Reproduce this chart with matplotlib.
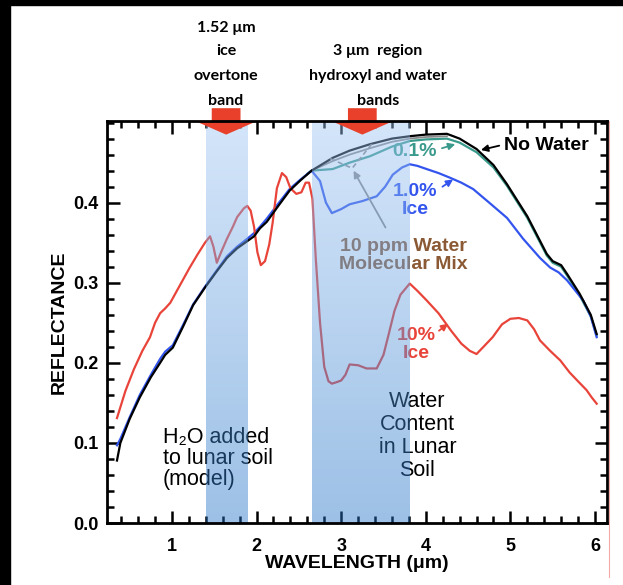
import numpy as np
import matplotlib
matplotlib.use("Agg")
import matplotlib.pyplot as plt
from matplotlib.patches import Rectangle, FancyArrow
from matplotlib.lines import Line2D
from matplotlib.ticker import MultipleLocator

# ---------------- data ----------------
wl_dry = [0.35, 0.39, 0.50, 0.62, 0.75, 0.86, 0.92, 1.01, 1.13, 1.25, 1.39, 1.52, 1.65, 1.77,
          1.89, 1.97, 2.04, 2.12, 2.25, 2.39, 2.52, 2.65, 2.90, 3.10, 3.34, 3.60, 3.81, 4.00,
          4.25, 4.40, 4.60, 4.80, 4.96, 5.20, 5.43, 5.50, 5.60, 5.67, 5.82, 5.95, 6.02]
refl_dry = [0.078, 0.100, 0.130, 0.157, 0.182, 0.200, 0.210, 0.219, 0.245, 0.272, 0.294, 0.313,
            0.331, 0.343, 0.352, 0.358, 0.368, 0.376, 0.395, 0.415, 0.428, 0.440, 0.456, 0.465,
            0.473, 0.480, 0.483, 0.485, 0.486, 0.480, 0.467, 0.447, 0.423, 0.383, 0.336, 0.327,
            0.322, 0.311, 0.286, 0.260, 0.236]

wl_01 = [2.60, 2.65, 2.90, 3.10, 3.34, 3.60, 3.81, 4.00, 4.25, 4.40, 4.60, 4.80, 4.96, 5.20,
         5.43, 5.50, 5.60, 5.67, 5.82, 5.95, 6.02]
refl_01 = [0.436, 0.440, 0.442, 0.450, 0.458, 0.470, 0.477, 0.479, 0.480, 0.475, 0.463, 0.444,
           0.421, 0.381, 0.334, 0.325, 0.320, 0.309, 0.284, 0.258, 0.234]

wl_ppm = [2.65, 2.90, 3.10, 3.34, 3.60, 3.81, 4.00, 4.25]
refl_ppm = [0.440, 0.452, 0.460, 0.468, 0.476, 0.480, 0.482, 0.483]

wl_10 = [0.35, 0.39, 0.50, 0.62, 0.75, 0.86, 0.92, 1.01, 1.13, 1.25, 1.39, 1.52, 1.65, 1.77,
         1.89, 1.97, 2.04, 2.12, 2.25, 2.39, 2.52, 2.65, 2.75, 2.82, 2.89, 3.00, 3.10, 3.25,
         3.42, 3.52, 3.61, 3.72, 3.81, 3.90, 4.01, 4.15, 4.29, 4.42, 4.56, 4.75, 4.96, 5.15,
         5.35, 5.47, 5.57, 5.67, 5.86, 5.95, 6.02]
refl_10 = [0.097, 0.105, 0.132, 0.160, 0.185, 0.205, 0.214, 0.222, 0.247, 0.273, 0.295, 0.314,
           0.333, 0.345, 0.355, 0.362, 0.370, 0.380, 0.398, 0.417, 0.429, 0.440, 0.427, 0.400,
           0.387, 0.392, 0.398, 0.402, 0.408, 0.420, 0.435, 0.444, 0.448, 0.446, 0.442, 0.437,
           0.431, 0.425, 0.417, 0.400, 0.381, 0.355, 0.331, 0.319, 0.313, 0.303, 0.278, 0.258,
           0.232]

wl_100 = [0.35, 0.45, 0.55, 0.65, 0.74, 0.80, 0.86, 0.92, 0.98, 1.10, 1.21, 1.30, 1.39, 1.45,
          1.49, 1.53, 1.58, 1.65, 1.72, 1.77, 1.85, 1.89, 1.93, 1.97, 2.01, 2.05, 2.10, 2.15,
          2.19, 2.24, 2.30, 2.35, 2.40, 2.47, 2.53, 2.58, 2.62, 2.66, 2.70, 2.75, 2.80, 2.85,
          2.89, 2.95, 3.00, 3.05, 3.10, 3.20, 3.30, 3.42, 3.50, 3.56, 3.63, 3.70, 3.81, 3.90,
          4.01, 4.15, 4.30, 4.42, 4.52, 4.60, 4.70, 4.79, 4.90, 5.00, 5.10, 5.20, 5.28, 5.35,
          5.47, 5.59, 5.70, 5.79, 5.90, 5.96, 6.02]
refl_100 = [0.131, 0.165, 0.192, 0.215, 0.232, 0.250, 0.262, 0.268, 0.275, 0.298, 0.319, 0.335,
            0.350, 0.358, 0.345, 0.325, 0.338, 0.355, 0.370, 0.382, 0.393, 0.396, 0.390, 0.370,
            0.338, 0.322, 0.327, 0.348, 0.375, 0.418, 0.437, 0.432, 0.418, 0.411, 0.413, 0.425,
            0.425, 0.405, 0.330, 0.250, 0.195, 0.177, 0.174, 0.176, 0.178, 0.185, 0.198, 0.197,
            0.193, 0.193, 0.210, 0.235, 0.265, 0.285, 0.299, 0.290, 0.278, 0.262, 0.240, 0.224,
            0.215, 0.211, 0.222, 0.232, 0.248, 0.255, 0.256, 0.253, 0.242, 0.228, 0.215, 0.203,
            0.188, 0.178, 0.166, 0.157, 0.149]

bands = [(1.40, 1.89), (2.65, 3.80)]
arrow_x = [1.64, 3.25]
top_text_1 = ['1.52 \u03bcm', 'ice', 'overtone', 'band']
top_text_2 = ['3 \u03bcm  region', 'hydroxyl and water', 'bands']

# ---------------- style ----------------
SANS = ['Liberation Sans', 'DejaVu Sans']
TOP = ['Lato', 'DejaVu Sans']
plt.rcParams['font.family'] = SANS

W, H = 623, 585
fig = plt.figure(figsize=(W / 100, H / 100), dpi=100)
fig.patch.set_facecolor('white')
ax = fig.add_axes([107 / W, 1 - 523 / H, 500 / W, 402 / H])

c_black = '#000000'
c_teal = '#3a9a8c'
c_blue = '#3355ee'
c_red = '#e8443a'
c_grey = '#8a8a8a'
c_brown = '#8b5a35'

ax.plot(wl_01, refl_01, color=c_teal, lw=1.6, zorder=2)
ax.plot(wl_ppm, refl_ppm, color=c_grey, lw=1.3, zorder=2)
ax.plot(wl_10, refl_10, color=c_blue, lw=1.6, zorder=2)
ax.plot(wl_dry, refl_dry, color=c_black, lw=1.6, zorder=3)
ax.plot(wl_100, refl_100, color=c_red, lw=1.6, zorder=2)

XL = (0.232, 6.142)
YL = (0.0, 0.502)

# text annotations
ax.text(0.894, 0.081, 'H\u2082O added\nto lunar soil\n(model)', fontsize=15.5, ha='left',
        va='center', linespacing=1.0, color='black', zorder=4)
ax.text(3.90, 0.165, 'Water\nContent\nin Lunar\nSoil', fontsize=15.5, ha='center', va='top',
        linespacing=1.12, color='black', zorder=4)

ax.text(4.92, 0.471, 'No Water', fontsize=14, fontweight='bold', ha='left', va='center',
        color=c_black, zorder=4)
ax.annotate('', xy=(4.62, 0.465), xytext=(4.90, 0.472),
            arrowprops=dict(arrowstyle='-|>', color=c_black, lw=1.3, mutation_scale=10), zorder=4)

ax.text(3.87, 0.4645, '0.1%', fontsize=14, fontweight='bold', ha='center', va='center',
        color=c_teal, zorder=4)
ax.annotate('', xy=(4.38, 0.474), xytext=(4.16, 0.467),
            arrowprops=dict(arrowstyle='-|>', color=c_teal, lw=1.3, mutation_scale=10), zorder=4)

ax.text(3.87, 0.403, '1.0%\nIce', fontsize=14, fontweight='bold', ha='center', va='center',
        color=c_blue, linespacing=1.05, zorder=4)
ax.annotate('', xy=(4.35, 0.431), xytext=(4.17, 0.418),
            arrowprops=dict(arrowstyle='-|>', color=c_blue, lw=1.3, mutation_scale=10), zorder=4)

ax.text(3.74, 0.334, '10 ppm Water\nMolecular Mix', fontsize=14, fontweight='bold', ha='center',
        va='center', color=c_brown, linespacing=1.05, zorder=4)
ax.annotate('', xy=(3.13, 0.443), xytext=(3.54, 0.366),
            arrowprops=dict(arrowstyle='-|>', color=c_grey, lw=1.3, mutation_scale=10), zorder=4)
ax.plot([2.87, 3.13, 3.36], [0.455, 0.443, 0.473], color=c_grey, lw=1.2, ls=(0, (3, 2)), zorder=4)

ax.text(3.89, 0.223, '10%\nIce', fontsize=14, fontweight='bold', ha='center', va='center',
        color=c_red, linespacing=1.05, zorder=4)
ax.annotate('', xy=(4.29, 0.251), xytext=(4.13, 0.238),
            arrowprops=dict(arrowstyle='-|>', color=c_red, lw=1.3, mutation_scale=10), zorder=4)

# translucent gradient bands on top
top_rgb = np.array([160, 198, 244]) / 255
bot_rgb = np.array([35, 115, 199]) / 255
n = 256
t = np.linspace(0, 1, n)[:, None]
grad = np.zeros((n, 1, 4))
grad[:, 0, :3] = top_rgb * (1 - t) + bot_rgb * t
grad[:, 0, 3] = 0.45
for (a, b) in bands:
    ax.imshow(grad, extent=(a, b, YL[0], YL[1]), origin='upper', aspect='auto',
              interpolation='bilinear', zorder=5)

ax.set_xlim(*XL)
ax.set_ylim(*YL)

# red arrows at top
for xa in arrow_x:
    ar = FancyArrow(xa, 0.518, 0, -0.033, width=0.34, head_width=0.69, head_length=0.016,
                    length_includes_head=True, color='#e8402a', lw=0, clip_on=False, zorder=6)
    ax.add_patch(ar)

# axes styling
for s in ax.spines.values():
    s.set_linewidth(2.0)
    s.set_zorder(7)
ax.xaxis.set_major_locator(MultipleLocator(1))
ax.xaxis.set_minor_locator(MultipleLocator(0.2))
ax.yaxis.set_major_locator(MultipleLocator(0.1))
ax.yaxis.set_minor_locator(MultipleLocator(0.02))
ax.tick_params(which='both', direction='in', top=True, right=True, width=1.8)
ax.tick_params(which='major', length=9)
ax.tick_params(which='minor', length=5)
ax.tick_params(axis='x', which='major', pad=11, labelsize=13)
ax.tick_params(axis='y', which='major', pad=6, labelsize=13)
ax.set_xticks([1, 2, 3, 4, 5, 6])
ax.set_xticklabels(['1', '2', '3', '4', '5', '6'], fontweight='bold')
ax.set_yticks([0.0, 0.1, 0.2, 0.3, 0.4])
ax.set_yticklabels(['0.0', '0.1', '0.2', '0.3', '0.4'], fontweight='bold')

ax.set_xlabel('WAVELENGTH (\u03bcm)', fontsize=14, fontweight='bold', labelpad=0)
ax.set_ylabel('REFLECTANCE', fontsize=14, fontweight='bold', labelpad=4)

# top annotations, one line at a time
for txt, yy in zip(top_text_1, [28, 51, 76, 101]):
    fig.text(226 / W, 1 - yy / H, txt, family=TOP, fontsize=11.5, fontweight='bold',
             ha='center', va='center')
for txt, yy in zip(top_text_2, [51, 76, 101]):
    fig.text(378 / W, 1 - yy / H, txt, family=TOP, fontsize=11.5, fontweight='bold',
             ha='center', va='center')

# black border strips and thin pink line
fig.patches.append(Rectangle((0, 1 - 5 / H), 1, 5 / H, transform=fig.transFigure,
                             color='black', zorder=10))
fig.patches.append(Rectangle((0, 0), 10 / W, 1, transform=fig.transFigure,
                             color='black', zorder=10))
fig.lines.append(Line2D([609 / W, 609 / W], [1 - 577 / H, 1 - 121 / H], transform=fig.transFigure,
                        color='#f4a8a8', lw=0.8))

fig.savefig('out.png', dpi=100)
